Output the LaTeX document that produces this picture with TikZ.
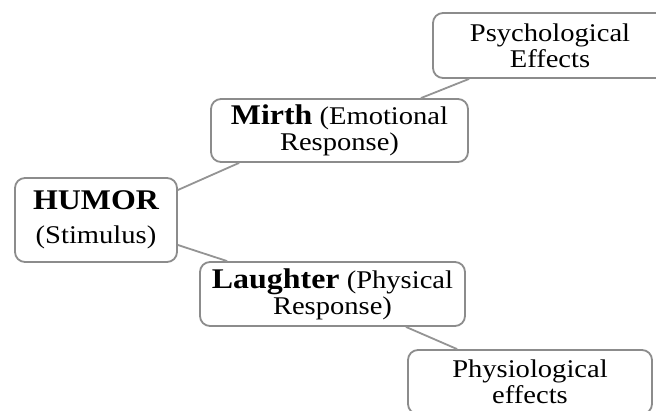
\documentclass[tikz,border=0pt]{standalone}
\usepackage{fontspec}
\setmainfont{Liberation Serif}[FakeStretch=1.12]
\begin{document}
\begin{tikzpicture}[x=1pt,y=-1pt,
  box/.style={draw=black!45, line width=1.8pt, rounded corners=10pt, fill=white,
    align=center, inner sep=0pt, font=\fontsize{25.5}{26}\selectfont},
  conn/.style={draw=black!42, line width=1.8pt}]
\newcommand\headword[1]{{\fontsize{28.5}{26}\selectfont\bfseries #1}}
\useasboundingbox (0,0) rectangle (656,411);

% boxes
\node[box, minimum width=162pt, minimum height=84pt] (humor) at (96,220)
  {\headword{HUMOR}\\[8pt](Stimulus)};
\node[box, minimum width=257pt, minimum height=63pt] (mirth) at (339.5,130.5)
  {\headword{Mirth} (Emotional\\Response)};
\node[box, minimum width=234pt, minimum height=65pt] (psych) at (550,45.5)
  {Psychological\\Effects};
\node[box, minimum width=265pt, minimum height=64pt] (laugh) at (332.5,294)
  {\headword{Laughter} (Physical\\Response)};
\node[box, minimum width=244pt, minimum height=64pt] (physio) at (530,382)
  {Physiological\\effects};

% connectors (shifts are in canvas units, so upward is positive)
\draw[conn] ([yshift=30pt]humor.east) -- ([xshift=29pt]mirth.south west);
\draw[conn] ([yshift=-25pt]humor.east) -- ([xshift=28pt]laugh.north west);
\draw[conn] ([xshift=-48pt]mirth.north east) -- ([xshift=37pt]psych.south west);
\draw[conn] ([xshift=-60pt]laugh.south east) -- ([xshift=50pt]physio.north west);
\end{tikzpicture}
\end{document}
